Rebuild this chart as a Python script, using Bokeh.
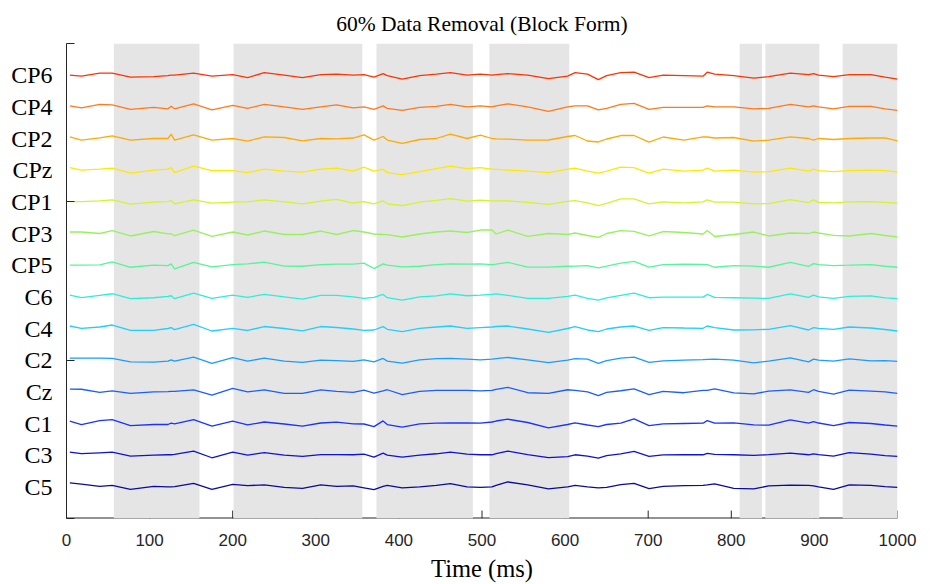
from bokeh.plotting import figure
from bokeh.models import Range1d, FixedTicker, ColumnDataSource
from bokeh.embed import file_html
from bokeh.resources import INLINE

title_text = "60% Data Removal (Block Form)"
x_label = "Time (ms)"

# sample times (ms)
time_ms = [4, 18, 40, 55, 77, 105, 122, 126, 130, 153,
           175, 200, 218, 238, 262, 284, 306, 325, 345, 358,
           370, 381, 386, 404, 425, 445, 462, 482, 498, 512,
           517, 531, 555, 580, 603, 612, 627, 640, 650, 667,
           683, 701, 718, 743, 766, 771, 780, 803, 827, 845,
           871, 893, 899, 905, 923, 942, 968, 985, 1000]

# channel traces (amplitude, uV), top to bottom
amp_CP6 = [0, -1, 2, 2, -2, -1.5, -0.5, 0, 0, 2,
           -1, 0.5, -2.5, 2.5, 0, -2.5, 0.5, 1, 0, 0.5,
           -2, 1.5, -0.5, -4, -0.5, 1, 2.5, 0, 1, 0,
           0.5, 1.5, 0, -3.5, -1, 2.5, 1, -4.5, -0.5, 2.5,
           3, -2.5, 0, -0.5, -1, 3, 1, -0.5, -3, -1.5,
           2, 0.5, 1.5, 0, -1.5, 0.5, 0.5, -2, -4]
amp_CP4 = [1, -1, 2.5, 2, -2.5, -0.5, -2, 0.5, -2, 3,
           -3, 1.5, -1.5, 2.5, 0, -2.5, 0, 2, -1, 0,
           -2.5, 1, -1.5, -3.5, -0.5, 0.5, 2.5, 0, 1, 0,
           1, 3, 0, -4.5, 0, 1, 1, -3, -1.5, 2.5,
           3.5, -2.5, -0.5, -0.5, -0.5, 1, 0, 0, -2, -1.5,
           2.5, 0, 1, 0, -2, 0.5, 0.5, -2, -3.5]
amp_CP2 = [1.7, -1.6, 0.7, 2.7, -1.6, 0, 0, 4.4, -1.6, 3.7,
           -1.6, 0, -2.6, 1.7, 1, -2.3, 0, -0.3, 0.5, 3.7,
           -1.6, 2, -1.6, -5, -1, 0, 4.4, 0, 3.4, 0,
           -0.3, -0.6, -1.6, -1.5, 2, 3, -2.5, -3.5, -0.5, 3,
           3, -3.6, 1.5, -1.6, 1.7, 1.5, 0.5, 1, -2.6, -1.6,
           1.7, 0, -1.6, 0, -1, 0, 0.5, 0.7, -2.3]
amp_CPz = [2.5, 0, 1, 2, -3, 0, 1, 2.5, -2.5, 4,
           -0.5, -0.5, -2.5, 1, -1, -2, 1, 2, -1, 3,
           -1, 1, -2.5, -4.5, -1.5, 1.5, 4, 1.5, 2.5, 1,
           0.8, 0, -1, -2.5, 1, 2, -1, -3, -1, 3,
           2.5, -3, 1, -1, 0, 2, -1, 0, -2, -1.5,
           2, -1, 1, -0.5, -1.5, -0.5, 0, -0.5, -2]
amp_CP1 = [0.3, 0.3, 1, 2, -2.3, -0.3, 0.3, 1.3, -2, 2,
           -1.3, -0.3, 0, 2, 0, -2, 0.7, 2.5, -1.3, 0.3,
           -2, 1, -2, -3.7, -0.3, 1.5, 3.3, 0.7, 1.7, 1,
           1, 1, -0.5, -2.5, 0.5, 1.3, -1, -3.7, -1.5, 3,
           3, -2, 0, -1, 0, 2, -0.3, -0.3, -2, -1.7,
           2.3, -0.7, 2, -0.5, -1, 0, 0.3, -0.5, -1.3]
amp_CP3 = [1.5, 1.5, 0, 2.8, -2.5, 2, -0.3, -0.2, -2.2, 3.5,
           -2.9, 1.5, -1.5, 2.5, -1, -1, 2.5, -1, 3, 1.5,
           -0.5, -1, -1.2, -3.5, -0.5, 1.5, 2.5, 1, 3.5, 3.5,
           -0.5, 3.5, -2.9, 0, -1, 0.5, -2, -3.9, 0, 2.8,
           2.1, -2.5, 2, 1, -0.5, 3.1, -3, -1, 1.5, -2.5,
           0.5, 0, 1.5, 0.5, -1.9, -2.5, 0, -2, -3.5]
amp_CP5 = [0, 0, 0.3, 3.3, -2.1, 0, -0.5, 1.3, -3.7, 2.9,
           -1.7, 0.6, 1.3, 3, -1, -1.1, 0.5, 1, 1, 2,
           -3.4, 1.3, 0, -1.7, -1.1, 0.5, 1.3, 1, 1.3, 0.6,
           1, 2.9, -2, -2, -1.1, -1, -0.4, -2.7, -1, 2,
           3.9, -2, 0.6, 1, 0.8, 0.6, -2.1, -0.4, -1, -2.1,
           2.9, -1.1, 1.6, 0.5, -0.4, 0, 0.6, -1.1, -2.1]
amp_C6 = [1.7, -0.9, 1.5, 3.1, -1.9, -0.9, 0.5, 1.1, -1.9, 3.7,
          -1.6, 1.7, -0.5, 2.5, 0, -2.3, 1.5, 1.5, 0, -1.5,
          -0.5, 2.4, -0.9, -3.3, 0, 1, 3, 1.1, 1.7, 2.5,
          3, 1.5, -1.6, -1.6, 0.5, 1.7, -1.5, -3.3, -1, 1.5,
          3.7, -0.9, -0.3, -0.3, -0.3, 2.4, -0.6, -0.9, -1.3, -1.6,
          3, -0.6, 1.7, 0, -1.6, 0.5, 1, -1, -1.9]
amp_C4 = [2.5, 0.2, 1.5, 3.5, -1.8, -1.8, 0, 0.9, -1.1, 4.2,
          -2.5, 0.2, -2, 2, 0, -2.3, 2, 1, -0.5, -1.8,
          -1.5, 1.9, -0.8, -3.1, 0.2, 1.5, 2.5, 0.2, 0.9, 1.5,
          2, 2.5, -0.5, -4, 0, 1.9, -1.5, -3.1, -0.5, 1.5,
          2.5, -1.8, 0.9, 0.5, 0.2, 2.5, 0.9, -1.5, -1.3, -0.8,
          2.9, -1.5, 0.9, 0.2, -0.8, 1.5, 0.5, -1, -2.5]
amp_C2 = [2, 2, 2, 1.7, -1.7, -2, -1, 0.3, -1, 3,
          -3.3, 2.5, -1, 2, -1, -2.3, 0, -0.5, -1.3, 0.3,
          -1.7, 1.7, -1, -3, 0.3, 1.5, 1.7, 1, 0.3, 1,
          1.5, 2.7, 0.3, -2.5, 0, 1.5, 1, -3.3, -0.5, 2,
          3, -2.3, -0.7, 0, 0.5, 0.7, 1, 0, -2.7, -1,
          2.3, -1.7, 1, 0, -1, 1.3, -0.7, -0.5, -1.3]
amp_Cz = [2.8, 2.6, -0.5, 1, -1.5, 0, 0.3, 0.5, 0.5, 2,
          -3.2, 3.5, 0, 2, -1.5, -1.5, 2, 0.5, -0.5, 1.8,
          -1.2, 1, 2.1, -2.9, 0.5, 1.5, 1.5, 1.5, 1, 1.5,
          2.5, 4.5, -0.9, -1.5, 2.1, 1.5, 0, -3.9, -0.5, 1.1,
          3, -2.9, 0.5, -0.9, 1.5, 1.5, 3, -1, -2, 0.7,
          2, -0.5, 2.1, 0.5, -2.2, 1.8, 0.8, 0, -1.5]
amp_C1 = [2.3, -1.1, 2.9, 3.9, -2.1, -1, -1, 0.3, -0.4, 3.9,
          -2.7, 2.5, -1.4, 1.5, -0.5, -2.7, 0.5, 1.3, -0.4, -0.5,
          -3.1, 2.6, -1.1, -3.7, -0.4, 0.3, 0.6, 0.5, 0.3, 1.5,
          2.5, 4.3, 1, -4.4, -1, 0.6, -1.5, -3.1, -1, 0.3,
          4.6, -2.1, -0.4, 0, 0.3, 2.9, 0.3, 0.6, -1.4, -1.7,
          3.6, 0.3, 1.9, 0.5, -2.1, 1, 0, -1.5, -2.7]
amp_C3 = [3.1, 1.5, 2.4, 3, -1, 0, 0.4, 0.4, 0.8, 4.1,
          -2.6, 3, 0, 2.5, 0, -1.2, 0.5, 0.6, 0.4, 1.1,
          -1.9, 2, 0, -1.9, 0, 1.4, 3, 1, 0.4, 0.4,
          1.5, 4.1, 0.5, -2.5, -1.5, 0.4, -1, -2.9, -0.5, 1.4,
          3.7, -1.3, 0.3, 0.4, 0.4, 1.7, 0.7, 0.4, -0.2, 0.5,
          2, 0.4, 1.4, 0.5, -0.9, 2.5, 1, -0.5, -1.3]
amp_C5 = [3.9, 2.8, 0.5, 1.5, -2.5, 0.5, -0.1, 0, 0.3, 3.5,
          -2.5, 2.5, 1.2, 2, -0.5, -1.5, 2, 0.5, 0.9, -1,
          -2.8, 0.5, 1.5, -1.1, -0.1, 1.5, 3.2, 0, -0.5, -0.1,
          1.5, 4.9, 2, -2, 0, 1.5, 0, -1.1, -0.5, 2.2,
          3.5, -1.8, 0.5, 1.3, 1.5, 2, 3, -1.5, -2, 0.9,
          1.8, 1.5, 0.9, 0, -2.5, 2, 1.5, 0.3, -0.5]

channel_names = ["CP6", "CP4", "CP2", "CPz", "CP1", "CP3", "CP5",
                 "C6", "C4", "C2", "Cz", "C1", "C3", "C5"]
channel_colors = ["#ff3300", "#ff7a1a", "#ffaa00", "#ffe800", "#d6f22a",
                  "#96f25c", "#55f59a", "#2aeedd", "#1fcfff", "#1a9cff",
                  "#1a5eff", "#1a33ff", "#0d12d6", "#0b0b99"]

# removed data blocks (ms)
removed_start = [57, 201, 373, 509, 810, 841, 934]
removed_end = [160, 356, 489, 605, 837, 906, 1000]

x_ticks = [0, 100, 200, 300, 400, 500, 600, 700, 800, 900, 1000]
y_ticks = [0, 5, 10, 15]
x_min, x_max = 0, 1000
y_min, y_max = 0, 15

amps = [amp_CP6, amp_CP4, amp_CP2, amp_CPz, amp_CP1, amp_CP3, amp_CP5,
        amp_C6, amp_C4, amp_C2, amp_Cz, amp_C1, amp_C3, amp_C5]

gain = 1.0 / 31.8          # channel units per uV
axis_color = "#262626"
tick_len = 8 * gain        # inward tick length (8 px) in y units

p = figure(width=930, height=584, output_backend="svg", toolbar_location=None,
           x_range=Range1d(x_min, x_max), y_range=Range1d(y_min, y_max),
           min_border_left=66, min_border_right=33, min_border_top=43,
           min_border_bottom=64)
p.outline_line_color = None
p.grid.visible = False
p.background_fill_color = "white"
p.border_fill_color = "white"

p.title.text = title_text
p.title.align = "center"
p.title.text_font = "Liberation Serif"
p.title.text_font_size = "21.5px"
p.title.text_font_style = "normal"
p.title.text_color = "#000000"
p.title.standoff = 15

# x axis: labels only; line and ticks drawn beneath the shaded blocks
xa = p.xaxis[0]
xa.ticker = FixedTicker(ticks=x_ticks)
xa.axis_line_color = None
xa.major_tick_line_color = None
xa.minor_tick_line_color = None
xa.major_label_text_font = "Liberation Sans"
xa.major_label_text_font_size = "17px"
xa.major_label_text_color = axis_color
xa.major_label_standoff = 9
xa.axis_label = x_label
xa.axis_label_text_font = "Liberation Serif"
xa.axis_label_text_font_size = "24.5px"
xa.axis_label_text_font_style = "normal"
xa.axis_label_text_color = "#000000"
xa.axis_label_standoff = 6

n_ch = len(channel_names)
offsets = [n_ch - i for i in range(n_ch)]

ya = p.yaxis[0]
ya.ticker = FixedTicker(ticks=offsets, minor_ticks=y_ticks)
ya.major_label_overrides = {o: name for o, name in zip(offsets, channel_names)}
ya.major_tick_line_color = None
ya.major_tick_in = 0
ya.major_tick_out = 0
ya.minor_tick_in = 8
ya.minor_tick_out = 0
ya.minor_tick_line_color = axis_color
ya.axis_line_color = axis_color
ya.major_label_text_font = "Liberation Serif"
ya.major_label_text_font_size = "24px"
ya.major_label_text_color = "#000000"
ya.major_label_standoff = 14

# bottom axis line and inward ticks (under the shading, as in the source)
p.segment(x0=[x_min], y0=[y_min], x1=[x_max], y1=[y_min],
          line_color=axis_color, line_width=2)
p.segment(x0=x_ticks, y0=[y_min] * len(x_ticks), x1=x_ticks,
          y1=[y_min + tick_len] * len(x_ticks),
          line_color=axis_color, line_width=1)

# removed-data blocks
p.quad(left=removed_start, right=removed_end,
       bottom=[y_min] * len(removed_start), top=[y_max] * len(removed_start),
       fill_color="#e5e5e5", line_color=None)

for name, amp, off, col in zip(channel_names, amps, offsets, channel_colors):
    src = ColumnDataSource(dict(t=time_ms, y=[off + v * gain for v in amp]))
    p.line("t", "y", source=src, line_color=col, line_width=1.3)

open("out.html", "w").write(file_html(p, INLINE))
